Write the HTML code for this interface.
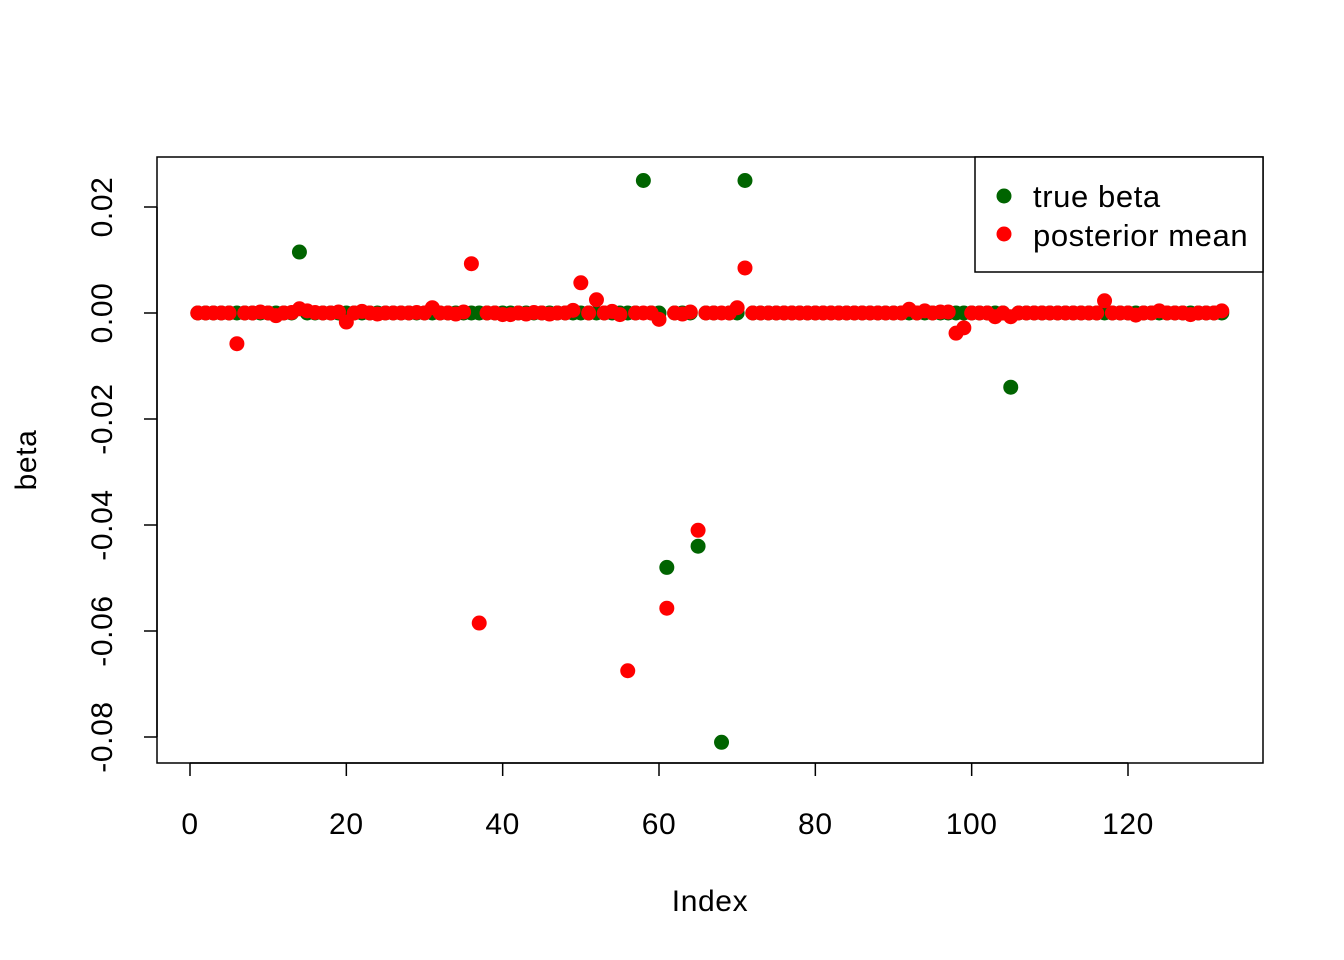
<!DOCTYPE html>
<html><head><meta charset="utf-8"><style>
body{margin:0;background:#fff}
svg{display:block;font-family:"Liberation Sans",sans-serif}
text{letter-spacing:0.6px}
</style></head><body>
<svg id="chart" width="1344" height="960">
<rect x="157" y="157" width="1106" height="606" fill="none" stroke="#000" stroke-width="1.5"/>
<g id="axes"></g>
<g id="pts"></g>
<text x="710" y="911" font-size="30" text-anchor="middle">Index</text>
<text x="0" y="0" font-size="30" text-anchor="middle" transform="translate(36,460) rotate(-90)">beta</text>
<g>
<rect x="975" y="157" width="288" height="115" fill="#fff" stroke="#000" stroke-width="1.5"/>
<circle cx="1004" cy="196" r="7.5" fill="#006400"/>
<text x="1033" y="207" font-size="31">true beta</text>
<circle cx="1004" cy="234" r="7.5" fill="#ff0000"/>
<text x="1033" y="246" font-size="31">posterior mean</text>
</g>
</svg>
<script>
const xTicks=[0,20,40,60,80,100,120];
const yTicks=[-0.08,-0.06,-0.04,-0.02,0,0.02];
const yTickLabels=["-0.08","-0.06","-0.04","-0.02","0.00","0.02"];
const trueBeta=[0,0,0,0,0,0,0,0,0,0,0,0,0,0.0115,0,0,0,0,0,0,
0,0,0,0,0,0,0,0,0,0,0,0,0,0,0,0,0,0,0,0,
0,0,0,0,0,0,0,0,0,0,0,0,0,0,0,0,0,0.025,0,0,
-0.048,0,0,0,-0.044,0,0,-0.081,0,0,0.025,0,0,0,0,0,0,0,0,0,
0,0,0,0,0,0,0,0,0,0,0,0,0,0,0,0,0,0,0,0,
0,0,0,0,-0.014,0,0,0,0,0,0,0,0,0,0,0,0,0,0,0,
0,0,0,0,0,0,0,0,0,0,0,0];
const postMean=[0,0,0,0,0,-0.0058,0,0,0.0002,0,
-0.0005,0,0.0001,0.0008,0.0004,0.0001,0,0,0.0002,-0.0017,
0,0.0003,0,-0.0002,0,0,0,0,0.0001,0,
0.001,0,0,-0.0002,0.0002,0.0093,-0.0585,0,0,-0.0003,
-0.0003,0,-0.0002,0.0001,0,-0.0002,0,0,0.0005,0.0057,
0,0.0025,0,0.0003,-0.0003,-0.0675,0,0,0,-0.0012,
-0.0557,0,-0.0002,0.0002,-0.041,0,0,0,0,0.001,
0.0085,0,0,0,0,0,0,0,0,0,
0,0,0,0,0,0,0,0,0,0,
0,0.0007,0,0.0004,0,0.0002,0.0002,-0.0038,-0.0028,0,
0,0,-0.0007,0,-0.0007,0,0,0,0,0,
0,0,0,0,0,0,0.0023,0,0,0,
-0.0004,0,0,0.0004,0,0,0,-0.0003,0,0,
0,0.0004];
const NS="http://www.w3.org/2000/svg";
const xS=v=>190+v*(1128-190)/120;
const yS=v=>313-v*5300;
const ax=document.getElementById('axes'),pts=document.getElementById('pts');
function mk(tag,at,parent){const e=document.createElementNS(NS,tag);for(const k in at)e.setAttribute(k,at[k]);parent.appendChild(e);return e;}
mk('line',{x1:xS(0),x2:xS(120),y1:763,y2:763,stroke:'#000','stroke-width':1.5},ax);
xTicks.forEach(t=>{
 const l=mk('line',{x1:xS(t),x2:xS(t),y1:763,y2:776,stroke:'#000','stroke-width':1.5},ax);
 
 
 const tx=mk('text',{x:xS(t),y:834,'font-size':30,'text-anchor':'middle'},ax);tx.textContent=t;
 
 
});
mk('line',{x1:157,x2:157,y1:yS(-0.08),y2:yS(0.02),stroke:'#000','stroke-width':1.5},ax);
yTicks.forEach((t,i)=>{
 const l=mk('line',{x1:144,x2:157,y1:yS(t),y2:yS(t),stroke:'#000','stroke-width':1.5},ax);
 
 
 const tx=mk('text',{x:0,y:0,'font-size':30,'text-anchor':'middle',transform:`translate(112,${yS(t)}) rotate(-90)`},ax);tx.textContent=yTickLabels[i];
 
 
});
trueBeta.forEach((v,i)=>{
 const c=mk('circle',{cx:xS(i+1),cy:yS(v),r:7.5,fill:'#006400'},pts);
 
 
});
postMean.forEach((v,i)=>{
 const c=mk('circle',{cx:xS(i+1),cy:yS(v),r:7.5,fill:'#ff0000'},pts);
 
 
});
</script>
</body></html>
